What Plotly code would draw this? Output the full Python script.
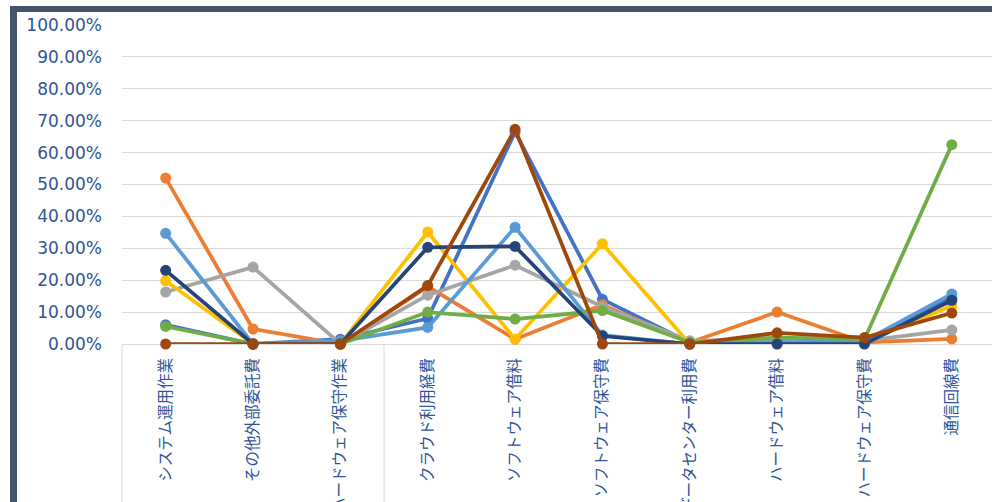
import plotly.graph_objects as go

categories = ["システム運用作業", "その他外部委託費", "ハードウェア保守作業", "クラウド利用経費",
              "ソフトウェア借料", "ソフトウェア保守費", "データセンター利用費", "ハードウェア借料",
              "ハードウェア保守費", "通信回線費"]

s1 = [6.0, 0.0, 1.5, 8.0, 66.5, 14.0, 0.5, 0.5, 0.5, 14.5]
s2 = [52.0, 4.7, 0.0, 18.0, 1.5, 12.3, 0.5, 10.0, 0.5, 1.6]
s3 = [16.3, 24.1, 0.0, 15.3, 24.7, 11.7, 1.0, 1.5, 1.0, 4.4]
s4 = [19.8, 0.0, 0.0, 35.1, 1.5, 31.4, 0.0, 0.0, 0.5, 12.0]
s5 = [34.7, 0.0, 1.0, 5.2, 36.6, 2.8, 0.0, 0.5, 1.0, 15.7]
s6 = [5.5, 0.0, 0.0, 10.0, 7.8, 10.5, 0.5, 2.0, 1.5, 62.5]
s7 = [23.1, 0.0, 0.0, 30.3, 30.6, 2.5, 0.0, 0.0, 0.0, 13.7]
s8 = [0.0, 0.0, 0.0, 18.3, 67.3, 0.0, 0.0, 3.5, 2.0, 9.7]

series = [s1, s2, s3, s4, s5, s6, s7, s8]
names = ["系列1", "系列2", "系列3", "系列4", "系列5", "系列6", "系列7", "系列8"]
colors = ["#4472C4", "#ED7D31", "#A5A5A5", "#FFC000", "#5B9BD5", "#70AD47", "#264478", "#9E480E"]

W, H = 992, 502
L, R, T, B = 122, 0, 25, 158

fig = go.Figure()
for name, vals, col in zip(names, series, colors):
    fig.add_trace(go.Scatter(
        x=list(range(len(categories))), y=[v / 100 for v in vals], name=name,
        mode="lines+markers", line=dict(color=col, width=3.75),
        marker=dict(color=col, size=11), cliponaxis=False))

pw = W - L - R
def px2paper_x(px):
    return (px - L) / pw
ph = H - T - B
def px2paper_y(py):
    return (H - B - py) / ph

shapes = [
    dict(type="line", xref="paper", yref="paper", x0=0, x1=0, y0=0, y1=px2paper_y(H),
         line=dict(color="#D9D9D9", width=1)),
    dict(type="line", xref="x", yref="paper", x0=2.5, x1=2.5, y0=0, y1=px2paper_y(H),
         line=dict(color="#D9D9D9", width=1)),
    dict(type="rect", xref="paper", yref="paper", x0=px2paper_x(10), x1=px2paper_x(17),
         y0=px2paper_y(H + 2), y1=px2paper_y(6), fillcolor="#44546A", line=dict(width=0), layer="above"),
    dict(type="rect", xref="paper", yref="paper", x0=px2paper_x(10), x1=px2paper_x(W + 2),
         y0=px2paper_y(12), y1=px2paper_y(6), fillcolor="#44546A", line=dict(width=0), layer="above"),
]

fig.update_layout(
    width=W, height=H, margin=dict(l=L, r=R, t=T, b=B),
    paper_bgcolor="white", plot_bgcolor="white", showlegend=False,
    shapes=shapes,
    xaxis=dict(range=[-0.5, 9.46], tickmode="array", tickvals=list(range(len(categories))),
               ticktext=categories, tickangle=-90, showgrid=False, zeroline=False,
               showline=False, ticks="", ticklabelstandoff=10, automargin=False,
               tickfont=dict(family="Noto Sans CJK JP", size=15.5, color="#2F5597")),
    yaxis=dict(range=[0, 1.0], tickvals=[i / 10 for i in range(11)], tickformat=".2%",
               showgrid=True, gridcolor="#D9D9D9", gridwidth=1, zeroline=True,
               zerolinecolor="#D9D9D9", zerolinewidth=1, showline=False, ticks="",
               ticklabelstandoff=19, automargin=False,
               tickfont=dict(family="DejaVu Sans", size=17, color="#2F5597")),
)

fig.write_html("out.html")
